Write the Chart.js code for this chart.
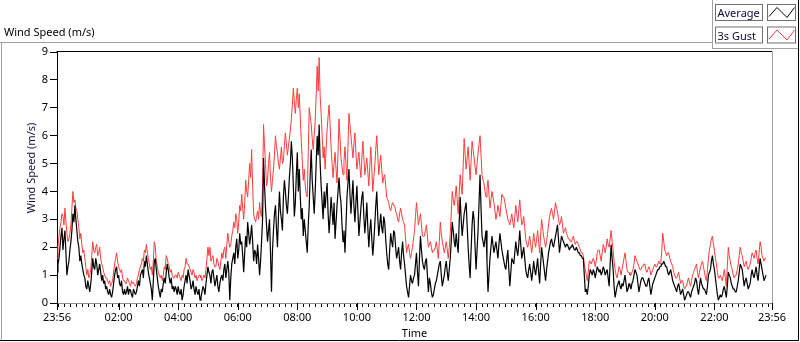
<!DOCTYPE html>
<html>
<head>
<meta charset="utf-8">
<script src="https://cdn.jsdelivr.net/npm/chart.js@4/dist/chart.umd.min.js"></script>
<style>
html,body{margin:0;padding:0;background:#fff;}
#wrap{position:relative;width:800px;height:342px;}
canvas{display:block;}
</style>
</head>
<body>
<div id="wrap"><canvas id="c" width="800" height="342"></canvas></div>
<script>
// Wind speed (m/s), one sample every 2 minutes starting 23:56
const average = [
1.1,1.4,1.6,2.0,2.4,2.7,1.9,2.3,2.6,1.8, 1.0,1.3,1.5,1.9,2.2,2.6,3.2,2.9,3.5,3.0,
2.6,2.2,2.0,1.5,1.7,1.4,1.2,1.0,0.9,0.6, 0.5,0.8,0.6,0.4,0.7,1.1,1.6,1.3,1.2,1.6,
1.4,1.0,1.2,1.4,1.1,0.8,1.0,0.7,0.8,0.5, 0.6,0.4,0.3,0.5,0.3,0.2,0.4,0.7,1.0,1.2,
1.3,0.9,1.0,0.7,0.6,0.8,0.4,0.3,0.5,0.3, 0.4,0.6,0.3,0.5,0.45,0.3,0.2,0.5,0.4,0.3,
0.4,0.6,0.8,0.6,1.0,1.1,1.2,0.9,1.5,1.3, 1.7,1.4,1.1,0.9,0.7,0.5,0.1,0.8,1.5,1.6,
1.2,0.9,0.6,0.4,0.2,0.5,0.4,0.7,0.9,0.7, 1.1,1.4,1.2,0.9,0.7,0.9,0.5,0.6,0.4,0.6,
0.5,0.3,0.6,0.4,0.3,0.5,0.1,0.3,0.6,0.8, 1.0,0.7,1.2,1.0,0.8,0.5,0.6,0.8,0.5,0.3,
0.6,0.4,0.3,0.5,0.1,0.2,0.4,0.6,0.5,0.3, 0.7,1.0,1.3,1.1,1.0,0.7,1.1,1.2,0.9,0.6,
0.8,1.0,0.6,0.4,0.7,0.9,1.0,0.8,1.2,1.4, 0.9,1.2,1.5,1.1,0.1,0.9,1.4,1.6,1.8,1.4,
2.0,2.3,1.6,1.9,2.5,2.1,2.2,1.7,1.1,1.8, 2.4,2.0,2.9,2.5,2.1,2.4,2.8,2.2,1.5,1.9,
1.8,1.4,2.1,1.6,1.0,1.5,2.2,3.0,5.2,4.2, 3.4,2.8,2.2,2.6,3.0,1.8,0.4,1.9,2.6,3.2,
3.5,2.7,2.0,3.1,4.0,3.3,3.0,2.6,3.8,4.4, 4.0,3.5,3.2,3.8,4.5,5.0,5.8,5.2,4.2,3.1,
3.6,4.6,5.4,4.0,4.8,3.8,3.0,3.4,2.4,3.0, 2.6,2.2,1.8,2.8,3.5,4.6,5.5,4.4,3.8,3.2,
4.0,5.0,6.0,5.3,6.4,5.0,4.2,3.6,3.0,4.0, 3.4,3.9,4.3,3.2,2.5,3.1,3.8,3.3,2.8,3.6,
2.3,2.9,3.5,4.0,4.5,3.9,3.6,2.8,2.2,2.6, 1.8,2.8,3.8,4.3,4.8,3.9,3.2,3.8,4.4,3.5,
2.9,3.6,4.2,3.3,2.4,2.9,3.4,3.8,4.0,3.1, 2.5,3.0,3.6,2.7,2.0,2.6,3.0,2.3,1.7,2.2,
2.8,3.5,4.0,3.1,2.4,2.8,3.2,2.7,2.5,3.1, 2.9,2.3,1.8,1.4,1.2,1.9,2.5,2.2,2.0,2.6,
2.5,2.0,1.6,1.8,2.0,1.5,1.2,1.8,2.2,1.7, 1.4,1.0,0.6,0.4,0.2,0.6,1.0,0.8,0.7,0.9,
1.0,1.4,1.8,1.1,0.6,1.6,2.4,1.9,1.5,1.3, 1.2,1.5,1.6,1.0,0.4,0.9,0.7,0.4,0.2,0.3,
0.5,0.7,0.8,1.0,1.2,1.4,1.5,1.0,0.6,0.8, 1.0,1.3,1.5,1.1,0.8,1.2,1.6,2.2,2.9,2.6,
2.2,2.0,2.5,2.1,1.8,2.9,3.8,3.0,2.4,2.8, 3.2,3.4,3.6,2.8,2.0,1.4,0.9,1.9,2.8,3.3,
3.0,2.0,1.2,1.9,2.6,3.6,4.6,3.4,2.4,2.2, 2.0,2.3,2.6,1.5,0.4,1.0,1.6,2.0,2.4,2.1,
1.8,2.0,2.2,1.9,1.6,2.1,2.5,2.2,1.9,1.7, 1.5,1.3,1.2,1.6,1.9,1.2,0.6,1.1,1.6,1.5,
1.4,1.8,2.2,1.9,1.7,2.1,2.6,2.1,1.6,1.8, 2.0,1.6,1.2,1.0,0.9,1.2,1.4,1.1,0.8,1.1,
1.5,1.2,1.0,1.3,1.6,1.1,0.7,1.4,2.0,1.7, 1.4,1.1,0.8,1.2,1.5,1.8,2.0,2.2,2.3,2.1,
2.0,2.2,2.4,2.6,2.8,2.3,1.8,2.1,2.4,2.3, 2.2,2.1,2.0,2.1,2.1,2.0,1.9,2.0,2.0,2.1,
2.0,1.9,1.9,2.0,1.9,1.8,1.8,1.7,1.7,1.6, 1.6,1.0,0.4,0.5,0.3,0.6,1.0,1.2,1.1,1.0,
1.2,1.1,0.9,1.1,1.3,1.2,1.1,1.2,1.0,1.1, 1.3,1.2,1.0,1.1,1.2,0.9,0.6,1.4,2.1,1.6,
1.2,0.6,0.2,0.4,0.6,0.7,0.8,0.6,0.5,0.7, 0.6,0.8,1.0,0.7,0.4,0.5,0.7,0.6,0.5,0.7,
0.8,1.0,1.2,1.1,1.0,0.7,0.4,0.6,0.8,0.9, 0.9,0.8,0.7,0.6,0.6,0.8,0.9,0.6,0.3,0.5,
0.7,0.8,0.9,1.0,1.1,1.2,1.2,1.3,1.3,1.4, 1.4,1.5,1.4,1.3,1.3,1.1,1.0,1.1,1.2,1.0,
0.8,0.7,0.6,0.5,0.4,0.6,0.7,0.5,0.3,0.4, 0.5,0.3,0.1,0.2,0.3,0.4,0.4,0.3,0.2,0.4,
0.5,0.6,0.7,0.9,0.8,0.5,0.3,0.6,0.9,0.7, 0.6,0.5,0.5,0.4,0.3,0.6,1.0,1.1,1.2,1.5,
1.7,1.4,1.2,0.9,0.6,0.3,0.1,0.2,0.3,0.2, 0.3,0.5,0.6,0.4,0.2,0.6,1.1,1.0,0.9,0.7,
0.6,0.5,0.5,0.4,0.4,0.6,0.8,1.1,1.4,1.3, 1.2,0.9,0.6,0.8,0.9,0.7,0.5,0.6,0.7,1.0,
1.2,1.0,0.9,1.1,1.3,1.0,0.8,1.2,1.6,1.4, 1.2,1.0,0.8,0.9,1.0
];
const gust = [
1.6,2.0,2.4,2.7,2.9,3.2,3.1,2.8,3.4,2.9, 2.5,2.2,2.3,2.5,2.8,3.4,4.0,3.6,3.7,3.4,
3.3,3.0,2.7,2.3,2.5,2.1,1.8,1.9,1.6,1.3, 1.0,1.2,0.9,1.0,1.2,1.7,2.2,1.9,1.8,2.0,
2.1,1.7,1.8,2.0,1.6,1.4,1.3,1.1,1.0,0.9, 0.9,0.8,0.7,0.8,0.6,0.7,0.8,1.1,1.4,1.6,
1.8,1.5,1.3,1.2,1.1,1.2,0.9,0.8,0.8,0.7, 0.7,0.9,0.8,0.7,0.6,0.8,0.7,0.75,0.65,0.6,
0.7,0.9,1.0,1.2,1.3,1.4,1.6,1.5,1.9,1.8, 2.1,1.8,1.6,1.4,1.2,1.3,1.0,1.5,2.2,2.0,
1.5,1.3,1.1,1.0,0.9,1.0,0.8,1.0,1.3,1.2, 1.7,1.6,1.4,1.3,1.1,1.2,1.0,0.9,0.9,1.0,
1.0,0.9,1.1,1.0,0.9,0.8,1.0,0.9,1.2,1.3, 1.6,1.4,1.4,1.3,1.2,1.1,1.0,1.2,1.1,0.9,
1.0,0.8,0.9,1.0,1.0,0.9,0.8,0.9,1.0,0.9, 1.2,1.6,2.0,1.7,2.0,1.5,1.6,1.7,1.4,1.3,
1.3,1.6,1.5,1.3,1.2,1.5,1.8,1.6,1.9,2.0, 1.6,2.1,2.5,2.2,2.0,2.1,2.4,2.6,2.9,2.7,
3.2,3.0,2.5,2.9,3.5,3.3,3.9,3.4,3.0,3.6, 4.4,4.0,3.8,4.4,5.0,4.5,5.5,4.2,3.2,3.0,
2.9,3.1,3.3,3.0,3.6,3.2,3.1,4.2,6.4,5.6, 5.0,4.2,4.4,5.0,5.4,4.5,4.0,4.4,4.8,5.3,
6.0,5.6,5.4,5.0,4.8,5.2,5.6,5.0,5.1,5.7, 6.1,5.7,5.3,5.6,5.9,6.2,6.6,7.1,7.7,7.2,
6.8,7.3,7.7,7.0,7.5,6.6,5.8,5.1,4.4,4.8, 4.2,3.9,3.8,5.4,7.0,6.7,6.4,5.9,5.5,6.0,
6.5,7.5,8.5,7.6,8.8,7.4,6.8,6.0,5.2,5.6, 4.8,5.5,6.2,6.7,7.1,6.4,5.6,5.0,4.5,5.0,
5.4,4.8,4.3,5.4,6.6,5.9,5.2,4.9,4.6,5.1, 5.6,5.0,4.4,5.6,6.8,6.4,6.0,5.6,5.2,5.7,
6.1,5.4,4.8,5.1,5.4,4.9,4.5,5.2,5.8,5.2, 4.6,4.9,5.2,4.7,4.2,4.9,5.6,4.8,4.0,4.5,
4.9,5.5,6.0,5.3,4.6,5.0,5.3,4.8,4.3,4.5, 4.6,4.2,3.8,3.7,3.6,3.4,3.3,3.5,3.6,3.5,
3.5,3.3,3.2,3.0,2.9,3.2,3.4,3.2,3.0,2.9, 2.8,2.3,1.8,2.0,2.1,1.8,1.6,1.8,2.0,2.3,
2.6,3.1,3.6,3.2,2.8,3.0,3.2,2.8,2.4,2.4, 2.4,2.6,2.8,2.4,2.0,2.1,2.2,2.0,1.8,1.9,
1.9,2.0,2.2,1.9,1.6,2.2,2.9,2.5,2.2,2.0, 1.8,2.0,2.2,1.9,1.6,2.0,2.5,3.2,4.0,3.7,
3.5,3.8,4.2,3.7,3.2,3.9,4.6,4.2,3.9,4.9, 5.9,5.3,4.8,5.2,5.6,5.0,4.4,5.1,5.8,5.5,
5.2,4.9,4.6,5.0,5.4,5.7,6.0,5.3,4.6,4.4, 4.3,4.0,3.8,4.1,4.4,3.9,3.4,3.7,4.0,3.8,
3.6,3.3,3.0,3.2,3.5,3.3,3.1,3.5,3.9,3.8, 3.8,3.6,3.4,3.2,3.0,2.9,2.8,3.0,3.2,2.9,
2.7,3.1,3.5,3.2,2.9,3.3,3.7,3.2,2.8,2.9, 3.1,2.7,2.3,2.1,2.0,2.2,2.4,2.1,1.8,2.1,
2.5,2.2,2.0,2.3,2.6,2.2,1.8,2.4,3.0,2.7, 2.4,2.2,2.0,2.2,2.5,2.8,3.1,3.3,3.4,3.2,
3.0,3.3,3.6,3.4,3.3,3.0,2.8,2.9,3.1,2.8, 2.5,2.6,2.7,2.5,2.4,2.3,2.3,2.2,2.2,2.3,
2.4,2.2,2.1,2.2,2.2,2.1,2.0,1.9,1.8,1.8, 1.7,1.4,1.2,1.0,0.8,1.1,1.5,1.5,1.4,1.5,
1.6,1.5,1.3,1.5,1.8,1.9,1.9,1.7,1.5,1.8, 2.1,2.0,1.8,2.0,2.3,2.1,2.0,2.3,2.6,2.2,
1.9,1.5,1.2,1.0,0.9,1.1,1.3,1.2,1.0,1.2, 1.4,1.6,1.8,1.5,1.2,1.1,1.1,1.0,1.0,1.1,
1.2,1.4,1.7,1.6,1.5,1.4,1.3,1.2,1.2,1.3, 1.3,1.4,1.4,1.2,1.1,1.2,1.3,1.2,1.0,1.1,
1.2,1.3,1.4,1.3,1.3,1.4,1.5,1.4,1.4,1.9, 2.5,2.2,1.9,1.8,1.7,1.8,1.8,1.6,1.5,1.4,
1.3,1.1,1.0,0.9,0.9,1.0,1.1,0.9,0.7,0.8, 0.8,0.6,0.5,0.6,0.6,0.8,0.9,0.7,0.6,0.8,
1.0,1.1,1.2,1.3,1.4,1.1,0.9,1.1,1.3,1.4, 1.5,1.3,1.1,0.9,0.8,1.2,1.6,1.9,2.1,2.3,
2.4,2.1,1.9,1.6,1.4,1.1,0.9,0.9,1.0,0.9, 0.8,1.0,1.2,0.9,0.6,1.3,2.0,1.7,1.5,1.3,
1.2,1.0,0.9,1.0,1.0,1.2,1.4,1.7,2.0,1.8, 1.7,1.5,1.3,1.4,1.5,1.3,1.2,1.3,1.4,1.6,
1.8,1.7,1.6,1.8,1.9,1.6,1.4,1.8,2.2,2.0, 1.7,1.6,1.5,1.6,1.6
];
const sampleMinutes = 2;
const majorTickMinutes = [0,124,244,364,484,604,724,844,964,1084,1204,1324,1440];
const majorTickLabels = ['23:56','02:00','04:00','06:00','08:00','10:00','12:00','14:00','16:00','18:00','20:00','22:00','23:56'];
const minorTickStart = 4, minorTickStep = 12;
const yTicks = [0,1,2,3,4,5,6,7,8,9];
const seriesNames = ['Average','3s Gust'];
const seriesColors = ['#000000','#ff3c3c'];

const toPoints = arr => arr.map((v,i)=>({x:i*sampleMinutes, y:v}));

Chart.defaults.font.family = "'Noto Sans', sans-serif";
Chart.defaults.font.size = 11;
Chart.defaults.color = '#000';

const FONT = "11px 'Noto Sans', sans-serif";

const decor = {
  id:'decor',
  afterDraw(c){
    const g = c.ctx, a = c.chartArea;
    const ln = (col,x1,y1,x2,y2)=>{g.strokeStyle=col;g.beginPath();g.moveTo(x1,y1);g.lineTo(x2,y2);g.stroke();};
    g.save();
    g.lineWidth = 1;
    // outer frame
    ln('#a0a0a0',0,42.5,712,42.5);
    ln('#a0a0a0',712.5,0,712.5,48.5);
    ln('#a0a0a0',712,48.5,798,48.5);
    ln('#000000',798.5,0,798.5,341);
    ln('#000000',0,340.5,799,340.5);
    ln('#a0a0a0',1.5,42,1.5,340);
    // plot frame top/right
    ln('#000000',a.left-0.5,a.top-0.5,a.right,a.top-0.5);
    ln('#a0a0a0',a.right+0.5,a.top-0.5,a.right+0.5,a.bottom+1);
    // longer major ticks
    const xs = c.scales.x;
    majorTickMinutes.forEach(m=>{
      const px = Math.round(xs.getPixelForValue(m))+0.5;
      ln('#000',px,a.bottom,px,a.bottom+7);
    });
    // title
    g.fillStyle = '#000';
    g.font = FONT;
    g.textAlign = 'left'; g.textBaseline = 'alphabetic';
    g.fillText('Wind Speed (m/s)', 4, 36);
    // y axis title
    g.save();
    g.translate(32,168);
    g.rotate(-Math.PI/2);
    g.textAlign='center'; g.textBaseline='middle';
    g.fillStyle = '#101040';
    g.fillText('Wind Speed (m/s)',0,0);
    g.restore();
    // legend
    seriesNames.forEach((name,k)=>{
      const y0 = 4.5 + k*22.5;
      g.strokeStyle = '#707070';
      g.strokeRect(715.5,y0,47,16);
      g.strokeRect(767.5,y0,28,16);
      g.fillStyle = '#0a0a3a';
      g.textAlign='left'; g.textBaseline='alphabetic';
      g.fillText(name,717.5,y0+12.5);
      g.strokeStyle = seriesColors[k];
      g.beginPath();
      g.moveTo(769,y0+12);
      g.lineTo(777,y0+3);
      g.lineTo(787,y0+13);
      g.lineTo(794.5,y0+3);
      g.stroke();
    });
    g.restore();
  }
};

new Chart(document.getElementById('c'), {
  type:'line',
  data:{
    datasets:[
      {label:seriesNames[0], data:toPoints(average), borderColor:seriesColors[0], borderWidth:1.2, pointRadius:0, tension:0, borderJoinStyle:'bevel', order:1},
      {label:seriesNames[1], data:toPoints(gust), borderColor:seriesColors[1], borderWidth:1, pointRadius:0, tension:0, borderJoinStyle:'bevel', order:2}
    ]
  },
  options:{
    responsive:false, animation:false, events:[],
    layout:{padding:{top:52,right:28,left:0,bottom:0}},
    plugins:{legend:{display:false}, tooltip:{enabled:false}, title:{display:false}},
    scales:{
      x:{
        type:'linear', min:0, max:1440,
        afterBuildTicks:s=>{
          const t = majorTickMinutes.map(v=>({value:v}));
          for(let m=minorTickStart;m<1440;m+=minorTickStep){ if(!majorTickMinutes.includes(m)) t.push({value:m}); }
          t.sort((p,q)=>p.value-q.value);
          s.ticks = t;
        },
        afterFit:s=>{s.height=39;},
        ticks:{autoSkip:false, maxRotation:0, minRotation:0, padding:4, color:'#000',
          callback:v=>{const k=majorTickMinutes.indexOf(v); return k>=0?majorTickLabels[k]:'';}},
        grid:{drawOnChartArea:false, tickLength:4, color:'#000', tickColor:'#000'},
        border:{color:'#909090'},
        title:{display:true, text:'Time', color:'#000', padding:{top:0,bottom:2}}
      },
      y:{
        min:0, max:9,
        afterBuildTicks:s=>{s.ticks = yTicks.map(v=>({value:v}));},
        afterFit:s=>{s.width=57;},
        ticks:{padding:2, color:'#000'},
        grid:{drawOnChartArea:false, tickLength:7, color:'#000', tickColor:'#000'},
        border:{color:'#000'}
      }
    }
  },
  plugins:[decor]
});
</script>
</body>
</html>
